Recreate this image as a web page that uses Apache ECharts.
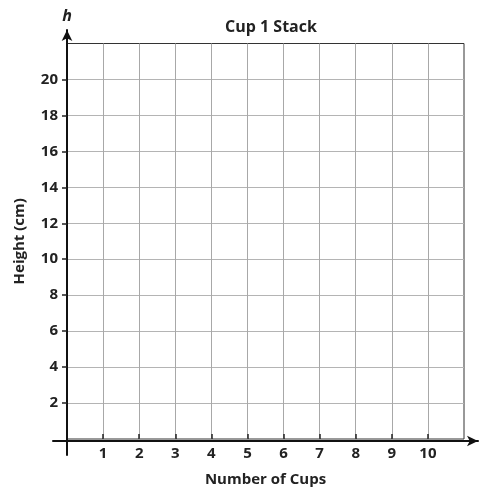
<!DOCTYPE HTML>
<html>
<head>
<meta charset="UTF-8" />
<script src="https://cdn.jsdelivr.net/npm/echarts@6/dist/echarts.min.js"></script>
</head>
<body style="margin:0;background:#fff">
<div id="main" style="width:484px;height:492px"></div>
<script>
// axis ranges and ticks
var xMax = 11, yMax = 22;
var xTicks = [1, 2, 3, 4, 5, 6, 7, 8, 9, 10];
var yTicks = [2, 4, 6, 8, 10, 12, 14, 16, 18, 20];
// no data plotted on this blank graph
var points = [];

var labelFont = { color: '#222', fontSize: 15, fontFamily: 'Open Sans', fontWeight: 'bold' };
var nameFont = { color: '#222', fontSize: 15, fontWeight: 'bold', fontFamily: 'Open Sans' };

var chart = echarts.init(document.getElementById('main'));
var option = {
  animation: false,
  title: {
    text: 'Cup 1 Stack', left: 266, top: 14, textAlign: 'center',
    textStyle: { color: '#222', fontSize: 16, fontWeight: 'bold', fontFamily: 'Open Sans' }
  },
  grid: [
    { left: 67, right: 20, top: 43.5, bottom: 51, show: true, borderColor: '#333', borderWidth: 1 },
    // extended axis lines with arrows
    { left: 53, right: 6, top: 30, bottom: 37 }
  ],
  xAxis: [{
    gridIndex: 0, type: 'value', min: 0, max: xMax, interval: 1,
    axisLine: { show: false },
    axisTick: { show: true, inside: true, length: 5, customValues: xTicks, lineStyle: { color: '#222', width: 1.5 } },
    axisLabel: Object.assign({ margin: 7, customValues: xTicks }, labelFont),
    splitLine: { show: true, lineStyle: { color: '#a8a8a8', width: 1 } },
    name: 'Number of Cups', nameLocation: 'middle', nameGap: 33,
    nameTextStyle: nameFont
  }, {
    gridIndex: 1, type: 'value', min: -14, max: 411,
    axisLine: { show: true, onZero: true, symbol: ['none', 'arrow'], symbolSize: [8, 11], lineStyle: { color: '#111', width: 2 } },
    axisTick: { show: false }, axisLabel: { show: false }, splitLine: { show: false }
  }],
  yAxis: [{
    gridIndex: 0, type: 'value', min: 0, max: yMax, interval: 2,
    axisLine: { show: false },
    axisTick: { show: true, inside: false, length: 5, customValues: yTicks, lineStyle: { color: '#222', width: 1.5 } },
    axisLabel: Object.assign({ margin: 9, customValues: yTicks }, labelFont),
    splitLine: { show: true, lineStyle: { color: '#b4b4b4', width: 1 } },
    name: 'Height (cm)', nameLocation: 'middle', nameGap: 40,
    nameTextStyle: nameFont
  }, {
    gridIndex: 1, type: 'value', min: -14, max: 411,
    axisLine: { show: true, onZero: true, symbol: ['none', 'arrow'], symbolSize: [8, 11], lineStyle: { color: '#111', width: 2 } },
    axisTick: { show: false }, axisLabel: { show: false }, splitLine: { show: false },
    name: 'h', nameLocation: 'end', nameGap: 6,
    nameTextStyle: { color: '#222', fontSize: 16, fontWeight: 'bold', fontStyle: 'italic', fontFamily: 'Open Sans' }
  }],
  series: [
    { type: 'scatter', xAxisIndex: 0, yAxisIndex: 0, data: points },
    { type: 'scatter', xAxisIndex: 1, yAxisIndex: 1, data: [] }
  ]
};
chart.setOption(option);
</script>
</body>
</html>
